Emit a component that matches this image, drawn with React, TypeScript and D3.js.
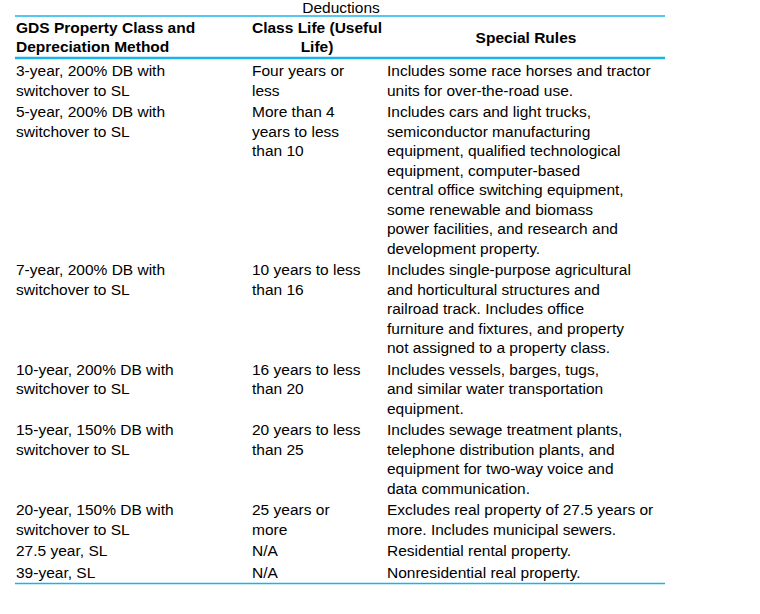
import React from "react";
import * as d3 from "d3";

const title = "Deductions";
const headers = [
  ["GDS Property Class and", "Depreciation Method"],
  ["Class Life (Useful", "Life)"],
  ["Special Rules"],
];
const propertyClasses = [
  ["3-year, 200% DB with", "switchover to SL"],
  ["5-year, 200% DB with", "switchover to SL"],
  ["7-year, 200% DB with", "switchover to SL"],
  ["10-year, 200% DB with", "switchover to SL"],
  ["15-year, 150% DB with", "switchover to SL"],
  ["20-year, 150% DB with", "switchover to SL"],
  ["27.5 year, SL"],
  ["39-year, SL"],
];
const classLives = [
  ["Four years or", "less"],
  ["More than 4", "years to less", "than 10"],
  ["10 years to less", "than 16"],
  ["16 years to less", "than 20"],
  ["20 years to less", "than 25"],
  ["25 years or", "more"],
  ["N/A"],
  ["N/A"],
];
const specialRules = [
  ["Includes some race horses and tractor", "units for over-the-road use."],
  [
    "Includes cars and light trucks,",
    "semiconductor manufacturing",
    "equipment, qualified technological",
    "equipment, computer-based",
    "central office switching equipment,",
    "some renewable and biomass",
    "power facilities, and research and",
    "development property.",
  ],
  [
    "Includes single-purpose agricultural",
    "and horticultural structures and",
    "railroad track. Includes office",
    "furniture and fixtures, and property",
    "not assigned to a property class.",
  ],
  ["Includes vessels, barges, tugs,", "and similar water transportation", "equipment."],
  [
    "Includes sewage treatment plants,",
    "telephone distribution plants, and",
    "equipment for two-way voice and",
    "data communication.",
  ],
  ["Excludes real property of 27.5 years or", "more. Includes municipal sewers."],
  ["Residential rental property."],
  ["Nonresidential real property."],
];

const W = 760;
const H = 614;
const FONT = "'Liberation Sans', Arial, Helvetica, sans-serif";
const FS = 15.5;
const LINE = 19.5;
const ROW_PAD = 2;
const LINE_COLOR = "#1bb4e8";

export default function App() {
  const tableLeft = 15;
  const tableRight = 665;
  const colX = [16, 252, 387];
  const colCenter = [0, 317, 526];

  const nRows = propertyClasses.length;
  const lineCounts = d3.range(nRows).map((i) =>
    Math.max(propertyClasses[i].length, classLives[i].length, specialRules[i].length)
  );
  const heights = lineCounts.map((n) => n * LINE + ROW_PAD);
  const offsets = [0, ...Array.from(d3.cumsum(heights))];
  const firstBaseline = 76;
  const rowY = d3
    .scaleLinear()
    .domain([0, offsets[nRows]])
    .range([firstBaseline, firstBaseline + offsets[nRows]]);

  const lastBaseline = rowY(offsets[nRows - 1]);
  const bottomLineY = lastBaseline + 6;

  const cols = [propertyClasses, classLives, specialRules];

  return (
    <svg
      width={W}
      height={H}
      style={{ position: "absolute", left: 0, top: 0, background: "#fff" }}
      fontFamily={FONT}
      fontSize={FS}
    >
      <rect x={0} y={0} width={W} height={H} fill="#fff" />
      <text x={(tableLeft + tableRight) / 2 + 1} y={12.5} textAnchor="middle" fill="#000">
        {title}
      </text>
      <line x1={tableLeft} x2={tableRight} y1={16} y2={16} stroke={LINE_COLOR} strokeWidth={1.6} />
      {/* headers */}
      <g fontWeight="bold" fill="#000">
        {headers[0].map((t, j) => (
          <text key={"h0" + j} x={colX[0]} y={32.5 + j * 19}>
            {t}
          </text>
        ))}
        {headers[1].map((t, j) => (
          <text key={"h1" + j} x={colCenter[1]} y={32.5 + j * 19} textAnchor="middle">
            {t}
          </text>
        ))}
        {headers[2].map((t, j) => (
          <text key={"h2" + j} x={colCenter[2]} y={43 + j * 19} textAnchor="middle">
            {t}
          </text>
        ))}
      </g>
      <line x1={tableLeft} x2={tableRight} y1={58} y2={58} stroke={LINE_COLOR} strokeWidth={2.4} />
      {/* body */}
      <g fill="#000">
        {d3.range(nRows).map((i) => (
          <g key={"r" + i}>
            {cols.map((col, c) =>
              col[i].map((t, j) => (
                <text key={c + "-" + j} x={colX[c]} y={rowY(offsets[i]) + j * LINE}>
                  {t}
                </text>
              ))
            )}
          </g>
        ))}
      </g>
      <line
        x1={tableLeft}
        x2={tableRight}
        y1={bottomLineY}
        y2={bottomLineY}
        stroke={LINE_COLOR}
        strokeWidth={1.4}
      />
    </svg>
  );
}
